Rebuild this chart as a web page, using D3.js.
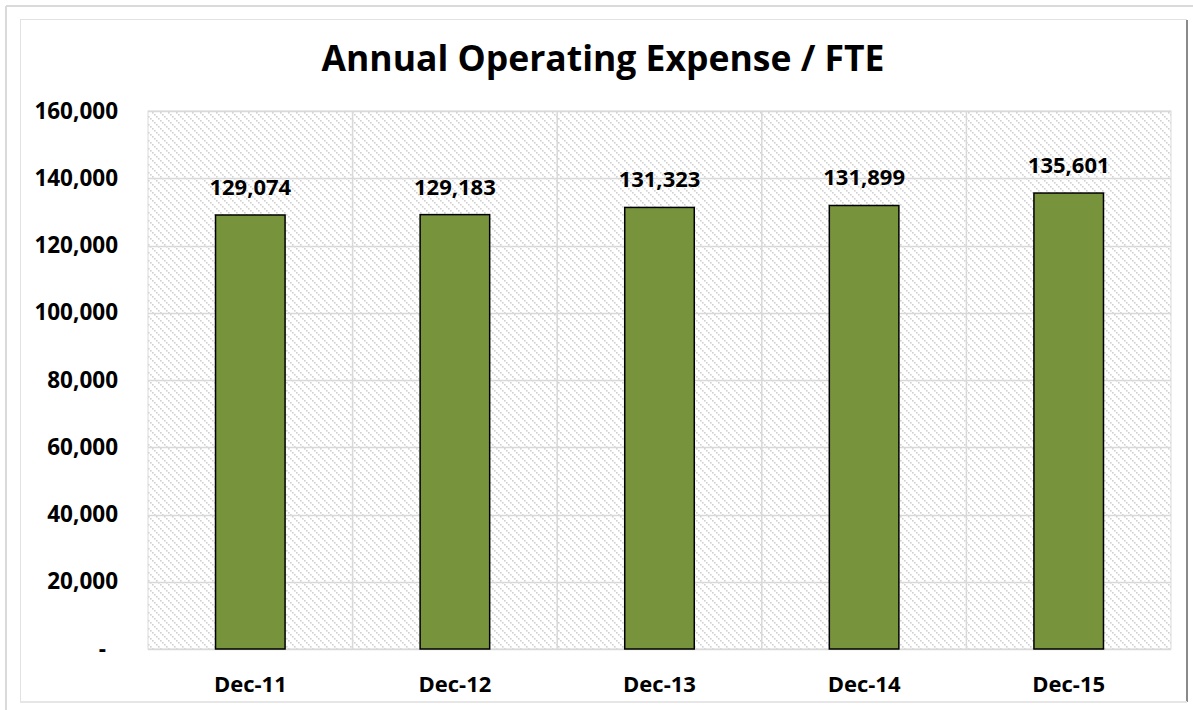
<!DOCTYPE html>
<html>
<head>
<meta charset="utf-8">
<script src="https://cdn.jsdelivr.net/npm/d3@7"></script>
<style>
  html, body { margin: 0; padding: 0; background: #fff; }
  svg { display: block; }
  text { font-family: "Open Sans", "Noto Sans", sans-serif; font-weight: bold; fill: #000; }
</style>
</head>
<body>
<svg id="chart" width="1193" height="710"></svg>
<script>
// Annual operating expense per FTE, year-end figures
const categories = ["Dec-11", "Dec-12", "Dec-13", "Dec-14", "Dec-15"];
const values = [129074, 129183, 131323, 131899, 135601];
const yTicks = [0, 20000, 40000, 60000, 80000, 100000, 120000, 140000, 160000];
const title = "Annual Operating Expense / FTE";

const W = 1193, H = 710;
const plot = { left: 148, top: 111, right: 1171, bottom: 649 };

const svg = d3.select("#chart");

// diagonal hatch for the plot background
const defs = svg.append("defs");
const pat = defs.append("pattern")
  .attr("id", "hatch")
  .attr("patternUnits", "userSpaceOnUse")
  .attr("width", 8).attr("height", 8);
for (let i = 0; i < 8; i += 2) {
  pat.append("rect")
    .attr("x", i).attr("y", i)
    .attr("width", 1.6).attr("height", 1.6)
    .attr("fill", "#d0d0d0");
}

// outer frame
svg.append("line").attr("x1", 6).attr("y1", 6).attr("x2", W).attr("y2", 6)
  .attr("stroke", "#dadada").attr("stroke-width", 2);
svg.append("line").attr("x1", 6).attr("y1", 6).attr("x2", 6).attr("y2", H)
  .attr("stroke", "#dadada").attr("stroke-width", 2);

// chart area border
svg.append("rect")
  .attr("x", 20.5).attr("y", 19.5)
  .attr("width", 1166).attr("height", 682)
  .attr("fill", "#fff")
  .attr("stroke", "#e2e2e2").attr("stroke-width", 1);
svg.append("line").attr("x1", 1187).attr("y1", 20).attr("x2", 1187).attr("y2", 702)
  .attr("stroke", "#8a8a8a").attr("stroke-width", 2);
svg.append("line").attr("x1", 20).attr("y1", 702).attr("x2", 1187).attr("y2", 702)
  .attr("stroke", "#e6e6e6").attr("stroke-width", 2);

const x = d3.scaleBand()
  .domain(categories)
  .range([plot.left, plot.right])
  .paddingInner(0.66)
  .paddingOuter(0.33);

const y = d3.scaleLinear()
  .domain([0, 160000])
  .range([plot.bottom, plot.top]);

// plot background
svg.append("rect")
  .attr("x", plot.left).attr("y", plot.top)
  .attr("width", plot.right - plot.left).attr("height", plot.bottom - plot.top)
  .attr("fill", "url(#hatch)")
  .attr("stroke", "#d9d9d9").attr("stroke-width", 1);

// horizontal gridlines
svg.append("g")
  .selectAll("line")
  .data(yTicks)
  .join("line")
  .attr("x1", plot.left).attr("x2", plot.right)
  .attr("y1", d => Math.round(y(d)) + 0.5).attr("y2", d => Math.round(y(d)) + 0.5)
  .attr("stroke", "#d9d9d9").attr("stroke-width", 1.5);

// vertical category separators
const step = x.step();
const seps = categories.slice(1).map((c, i) => plot.left + step * (i + 1));
svg.append("g")
  .selectAll("line")
  .data(seps)
  .join("line")
  .attr("x1", d => d).attr("x2", d => d)
  .attr("y1", plot.top).attr("y2", plot.bottom)
  .attr("stroke", "#d9d9d9").attr("stroke-width", 1.5);

// y axis labels
const yAxis = d3.axisLeft(y)
  .tickValues(yTicks)
  .tickSize(0)
  .tickPadding(30)
  .tickFormat(d => d === 0 ? "-" : d3.format(",")(d));
const yg = svg.append("g")
  .attr("transform", `translate(${plot.left},0)`)
  .call(yAxis);
yg.select(".domain").remove();
yg.selectAll("text")
  .attr("font-size", 22.5)
  .attr("fill", "#000");
yg.selectAll(".tick").filter(d => d === 0).select("text")
  .attr("dx", -12);

// x axis labels
const xAxis = d3.axisBottom(x).tickSize(0).tickPadding(27);
const xg = svg.append("g")
  .attr("transform", `translate(0,${plot.bottom})`)
  .call(xAxis);
xg.select(".domain").remove();
xg.selectAll("text")
  .attr("font-size", 22)
  .attr("fill", "#000");

// bars
const data = categories.map((c, i) => ({ c, v: values[i] }));
svg.append("g")
  .selectAll("rect")
  .data(data)
  .join("rect")
  .attr("x", d => x(d.c))
  .attr("y", d => y(d.v))
  .attr("width", x.bandwidth())
  .attr("height", d => y(0) - y(d.v))
  .attr("fill", "#77933c")
  .attr("stroke", "#000")
  .attr("stroke-width", 1.5);

// value labels
svg.append("g")
  .selectAll("text")
  .data(data)
  .join("text")
  .attr("x", d => x(d.c) + x.bandwidth() / 2)
  .attr("y", d => y(d.v) - 20)
  .attr("text-anchor", "middle")
  .attr("font-size", 22)
  .text(d => d3.format(",")(d.v));

// title
svg.append("text")
  .attr("x", 603)
  .attr("y", 71)
  .attr("text-anchor", "middle")
  .attr("font-size", 35.5)
  .text(title);
</script>
</body>
</html>
